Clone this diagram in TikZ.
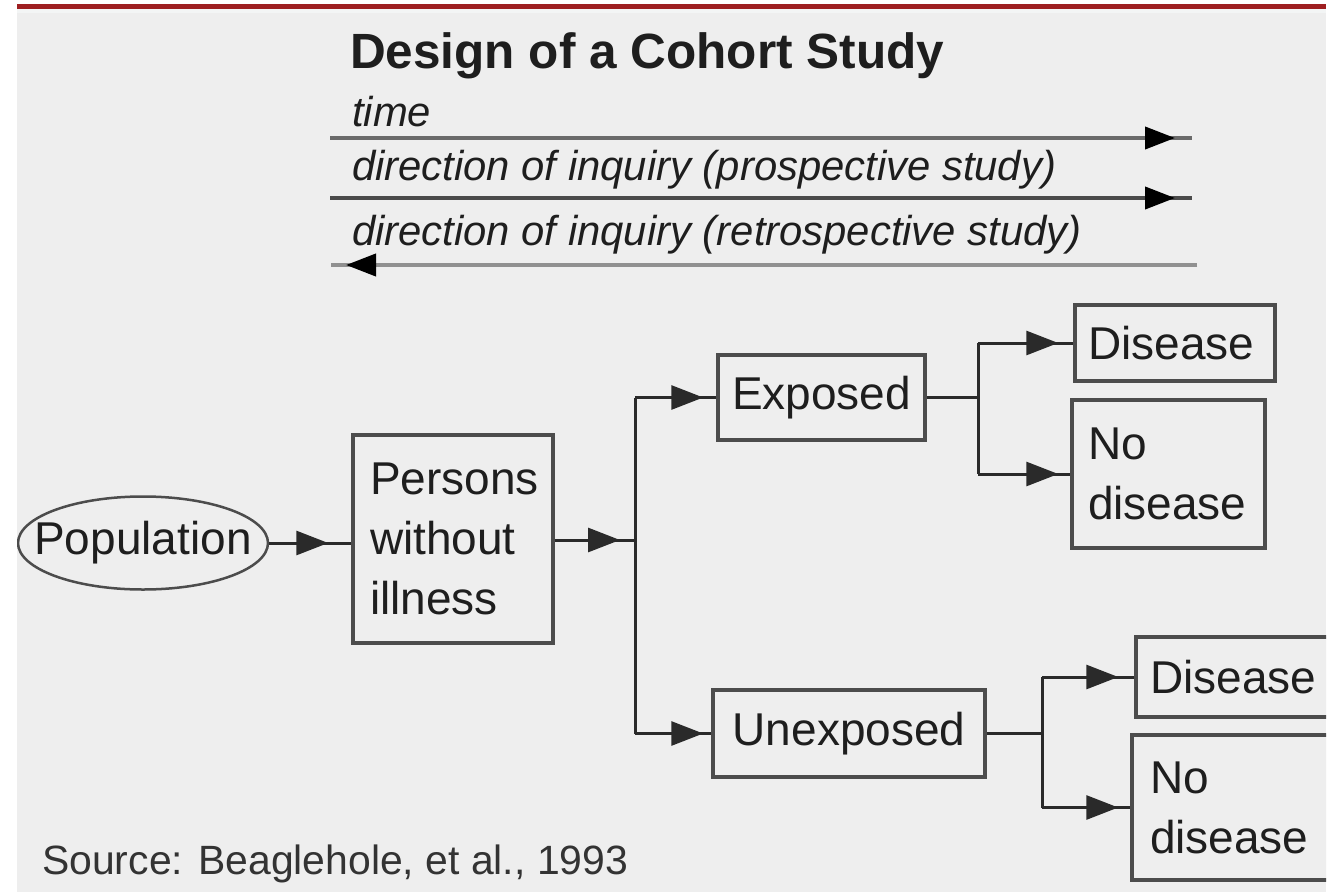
\documentclass[tikz,border=0pt]{standalone}
\usepackage{fontspec}
\setmainfont{Liberation Sans}
\usetikzlibrary{arrows.meta,shapes.geometric}
\definecolor{bg}{HTML}{EEEEEE}
\definecolor{band}{HTML}{F3F5F5}
\definecolor{redbar}{HTML}{9E1F21}
\definecolor{boxline}{HTML}{4C4C4C}
\definecolor{conncol}{HTML}{2A2A2A}
\definecolor{txt}{HTML}{1E1E1E}
\definecolor{lineA}{HTML}{6A6A6A}
\definecolor{lineB}{HTML}{4A4A4A}
\definecolor{lineC}{HTML}{909090}
\begin{document}
\begin{tikzpicture}[x=1pt,y=-1pt,
  box/.style={draw=boxline, line width=3.5pt, fill=bg, rectangle, inner sep=0pt,
    text=txt, font=\fontsize{46}{60}\selectfont},
  leftbox/.style={box, align=left},
  conn/.style={draw=conncol, line width=3pt},
  gaparrow/.style={draw=conncol, line width=3pt, -{Triangle[length=32pt,width=24pt]}, shorten >=#1},
  topline/.style={line width=4pt},
  toparrow/.style={line width=4pt, -{Triangle[length=30pt,width=22pt,color=black]}, shorten >=#1},
  label/.style={anchor=base west, inner sep=0pt, text=txt},
  ital/.style={label, font=\itshape\fontsize{41.8}{48}\selectfont}
]
\useasboundingbox (0,0) rectangle (1338,894);
% background
\fill[white] (0,0) rectangle (1338,894);
\fill[bg] (17,13) rectangle (1326,892);
\fill[band] (17,9) rectangle (1326,13);
\fill[redbar] (17,4) rectangle (1326,9);

% header
\node[label, font=\bfseries\fontsize{49.5}{58}\selectfont] (title) at (350,68) {Design of a Cohort Study};
\node[ital] (time) at (352,126) {time};
\node[ital] (pro) at (352,180) {direction of inquiry (prospective study)};
\node[ital] (retro) at (352,245) {direction of inquiry (retrospective study)};

\coordinate (t1s) at (330,138);
\coordinate (t1e) at (1192,138);
\coordinate (t2s) at (330,198);
\coordinate (t2e) at (1192,198);
\coordinate (t3s) at (1197,265);
\coordinate (t3e) at (331,265);
\draw[topline, draw=lineA] (t1s) -- (t1e);
\draw[toparrow=17pt, draw=lineA] (t1s) -- (t1e);
\draw[topline, draw=lineB] (t2s) -- (t2e);
\draw[toparrow=17pt, draw=lineB] (t2s) -- (t2e);
\draw[topline, draw=lineC] (t3s) -- (t3e);
\draw[toparrow=15pt, draw=lineC] (t3s) -- (t3e);

\begin{scope}
\clip (17,13) rectangle (1326,892);
% nodes
\node[draw=boxline, line width=2.5pt, ellipse, minimum width=250pt, minimum height=93pt,
  inner sep=0pt, text=txt, font=\fontsize{46}{60}\selectfont] (pop) at (143,543) {\makebox[140pt]{Population}};
\node[leftbox, minimum width=200pt, minimum height=208pt, text width=166pt, inner xsep=17pt]
  (persons) at (453,539) {Persons\\without\\illness};
\node[box, minimum width=207pt, minimum height=85pt] (exp) at (821.5,397.5) {Exposed};
\node[box, minimum width=272pt, minimum height=87pt] (unexp) at (849,733.5) {Unexposed};
\node[leftbox, minimum width=200pt, minimum height=76pt, text width=174pt, inner xsep=13pt]
  (dis1) at (1175,343) {Disease};
\node[leftbox, minimum width=193pt, minimum height=148pt, text width=161pt, inner xsep=16pt]
  (nd1) at (1168.5,474) {No\\disease};
\node[leftbox, minimum width=200pt, minimum height=80pt, text width=172pt, inner xsep=14pt]
  (dis2) at (1236,677) {Disease};
\node[leftbox, minimum width=200pt, minimum height=145pt, text width=164pt, inner xsep=18pt]
  (nd2) at (1232,807.5) {No\\disease};
\end{scope}

% connectors
\coordinate (b1) at (635,540);
\coordinate (b2) at (978,397.5);
\coordinate (b3) at (1042,733.5);

\draw[conn] (pop.east) -- (pop.east -| persons.west);
\draw[gaparrow=23pt] (pop.east) -- (pop.east -| persons.west);
\draw[conn] (persons.east |- b1) -- (b1);
\draw[gaparrow=15pt] (persons.east |- b1) -- (b1);
\draw[conn] (b1 |- exp.west) -- (b1 |- unexp.west);
\draw[conn] (b1 |- exp.west) -- (exp.west);
\draw[gaparrow=13pt] (b1 |- exp.west) -- (exp.west);
\draw[conn] (b1 |- unexp.west) -- (unexp.west);
\draw[gaparrow=8pt] (b1 |- unexp.west) -- (unexp.west);

\draw[conn] (exp.east) -- (b2);
\draw[conn] (b2 |- dis1.west) -- (b2 |- nd1.west);
\draw[conn] (b2 |- dis1.west) -- (dis1.west);
\draw[gaparrow=15pt] (b2 |- dis1.west) -- (dis1.west);
\draw[conn] (b2 |- nd1.west) -- (nd1.west);
\draw[gaparrow=12pt] (b2 |- nd1.west) -- (nd1.west);

\draw[conn] (unexp.east) -- (b3);
\draw[conn] (b3 |- dis2.west) -- (b3 |- nd2.west);
\draw[conn] (b3 |- dis2.west) -- (dis2.west);
\draw[gaparrow=16pt] (b3 |- dis2.west) -- (dis2.west);
\draw[conn] (b3 |- nd2.west) -- (nd2.west);
\draw[gaparrow=12pt] (b3 |- nd2.west) -- (nd2.west);

% source
\node[label, font=\fontsize{40.9}{48}\selectfont, text=black!80] (src) at (42,874) {Source: Beaglehole, et al., 1993};
\end{tikzpicture}
\end{document}
